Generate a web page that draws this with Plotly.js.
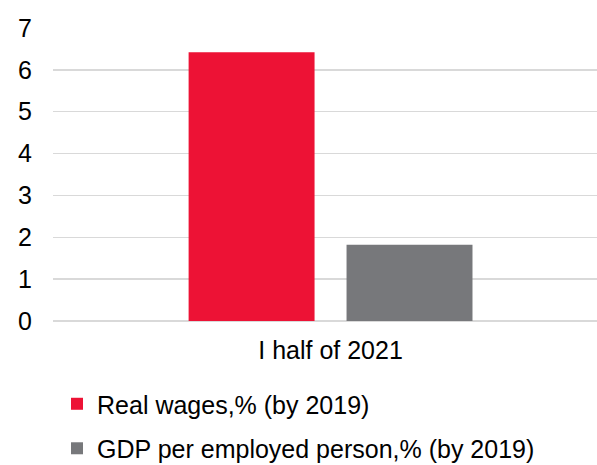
<!DOCTYPE html>
<html>
<head>
<meta charset="utf-8">
<script src="https://cdn.plot.ly/plotly-3.0.1.min.js"></script>
<style>html,body{margin:0;padding:0;background:#fff;}#chart{width:597px;height:465px;}</style>
</head>
<body>
<div id="chart"></div>
<script>
const categories = ["I half of 2021"];
const seriesNames = ["Real wages,% (by 2019)", "GDP per employed person,% (by 2019)"];
const realWages = [6.42];
const gdpPerEmployed = [1.82];
const yTicks = [0, 1, 2, 3, 4, 5, 6, 7];

const font = {family: "Liberation Sans, Arial, sans-serif", size: 25, color: "#000"};

const traces = [
  {type: "bar", name: seriesNames[0], x: categories, y: realWages,
   marker: {color: "#ED1235"}, hoverinfo: "y", legendgroup: "g0"},
  {type: "bar", name: seriesNames[1], x: categories, y: gdpPerEmployed,
   marker: {color: "#77787B"}, hoverinfo: "y", legendgroup: "g1"}
];

const layout = {
  width: 597, height: 465,
  margin: {l: 53, r: 0, t: 28, b: 144, autoexpand: false},
  paper_bgcolor: "#fff", plot_bgcolor: "#fff",
  font: font,
  barmode: "group",
  bargap: 0.431,
  bargroupgap: 0.2025,
  showlegend: true,
  legend: {orientation: "v", xref: "container", x: 0.0955, xanchor: "left",
           yref: "container", y: 0.1806, yanchor: "top",
           traceorder: "grouped", tracegroupgap: 9, font: font},
  xaxis: {type: "category", range: [-0.5, 0.48], showgrid: false, zeroline: false,
          showline: false, ticks: "", ticklabelstandoff: 12, tickfont: font},
  yaxis: {range: [0, 7], tickvals: yTicks, ticktext: yTicks.map(String),
          showgrid: true, gridcolor: "#D9D9D9", gridwidth: 1.3,
          zeroline: true, zerolinecolor: "#D9D9D9", zerolinewidth: 1.3,
          showline: false, ticks: "", ticklabelstandoff: 20, tickfont: font}
};

Plotly.newPlot("chart", traces, layout, {displayModeBar: false, staticPlot: true});
</script>
</body>
</html>
